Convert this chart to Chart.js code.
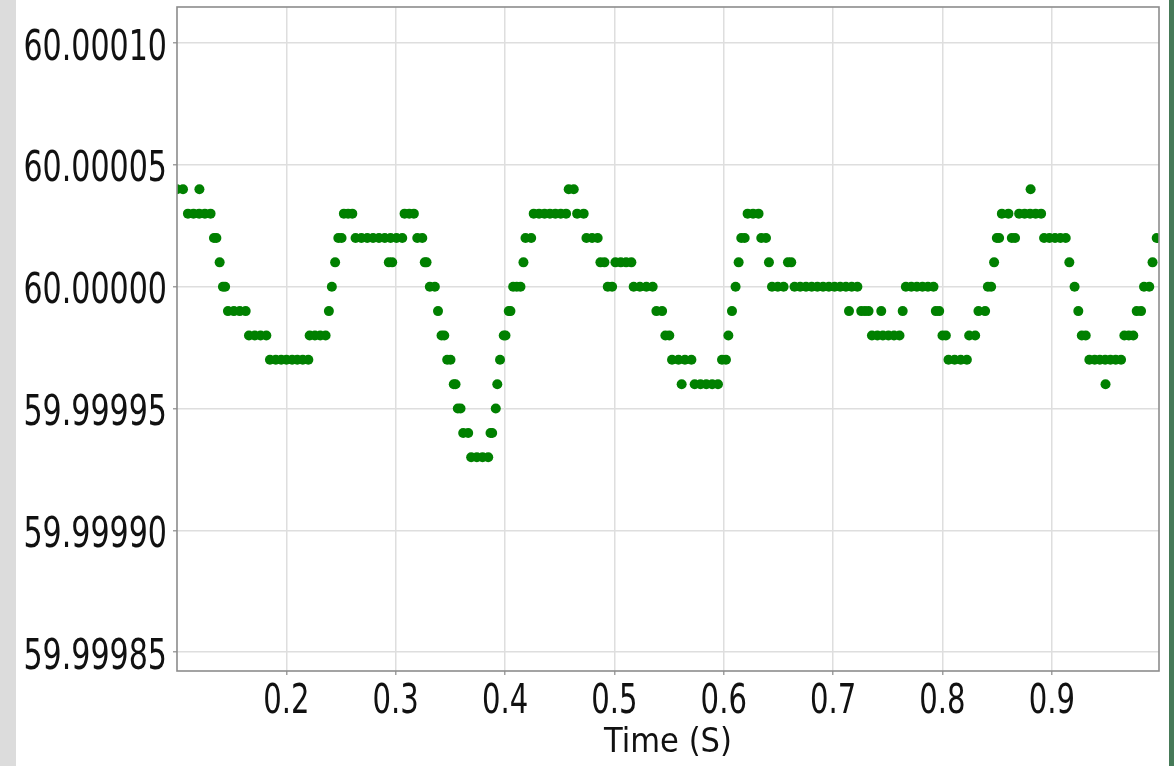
<!DOCTYPE html>
<html>
<head>
<meta charset="utf-8">
<title>Frequency vs time</title>
<script src="https://cdn.jsdelivr.net/npm/chart.js@4.4.1/dist/chart.umd.min.js"></script>
<style>
  html, body { margin: 0; padding: 0; background: #ffffff; }
  #wrap { position: relative; width: 1174px; height: 766px; }
  canvas { display: block; }
</style>
</head>
<body>
<div id="wrap"><canvas id="freqChart" width="1174" height="766"></canvas></div>
<script>
// Sample times (s) of the frequency measurements
const times = [
  0.1000, 0.1055, 0.1100, 0.1151, 0.1203, 0.1205, 0.1255, 0.1307, 0.1338, 0.1360,
  0.1390, 0.1420, 0.1440, 0.1466, 0.1520, 0.1574, 0.1628, 0.1658, 0.1711, 0.1764,
  0.1817, 0.1850, 0.1903, 0.1953, 0.2001, 0.2053, 0.2100, 0.2150, 0.2201, 0.2213,
  0.2261, 0.2310, 0.2359, 0.2389, 0.2416, 0.2446, 0.2475, 0.2505, 0.2526, 0.2565,
  0.2603, 0.2633, 0.2686, 0.2740, 0.2793, 0.2847, 0.2900, 0.2937, 0.2953, 0.2968,
  0.3007, 0.3060, 0.3081, 0.3124, 0.3166, 0.3197, 0.3243, 0.3266, 0.3282, 0.3312,
  0.3358, 0.3387, 0.3419, 0.3444, 0.3471, 0.3501, 0.3531, 0.3547, 0.3568, 0.3593,
  0.3617, 0.3663, 0.3690, 0.3742, 0.3794, 0.3846, 0.3867, 0.3882, 0.3915, 0.3929,
  0.3954, 0.3988, 0.4004, 0.4034, 0.4049, 0.4074, 0.4107, 0.4141, 0.4168, 0.4187,
  0.4239, 0.4262, 0.4311, 0.4361, 0.4410, 0.4460, 0.4509, 0.4558, 0.4582, 0.4628,
  0.4659, 0.4719, 0.4744, 0.4796, 0.4847, 0.4872, 0.4909, 0.4939, 0.4979, 0.5009,
  0.5058, 0.5107, 0.5155, 0.5176, 0.5233, 0.5292, 0.5350, 0.5384, 0.5436, 0.5466,
  0.5502, 0.5527, 0.5586, 0.5615, 0.5645, 0.5704, 0.5734, 0.5787, 0.5840, 0.5894,
  0.5947, 0.5984, 0.6020, 0.6042, 0.6075, 0.6108, 0.6136, 0.6160, 0.6191, 0.6218,
  0.6268, 0.6318, 0.6343, 0.6386, 0.6413, 0.6441, 0.6494, 0.6547, 0.6587, 0.6617,
  0.6647, 0.6699, 0.6752, 0.6804, 0.6856, 0.6908, 0.6961, 0.7013, 0.7065, 0.7117,
  0.7145, 0.7170, 0.7222, 0.7257, 0.7291, 0.7324, 0.7355, 0.7405, 0.7440, 0.7455,
  0.7506, 0.7557, 0.7607, 0.7636, 0.7665, 0.7715, 0.7766, 0.7817, 0.7867, 0.7918,
  0.7939, 0.7970, 0.8000, 0.8031, 0.8055, 0.8111, 0.8167, 0.8223, 0.8244, 0.8299,
  0.8329, 0.8390, 0.8415, 0.8445, 0.8472, 0.8497, 0.8518, 0.8543, 0.8603, 0.8634,
  0.8664, 0.8701, 0.8751, 0.8801, 0.8806, 0.8852, 0.8902, 0.8929, 0.8978, 0.9029,
  0.9078, 0.9127, 0.9160, 0.9208, 0.9242, 0.9274, 0.9310, 0.9343, 0.9392, 0.9439,
  0.9488, 0.9491, 0.9536, 0.9584, 0.9633, 0.9663, 0.9704, 0.9745, 0.9776, 0.9816,
  0.9843, 0.9891, 0.9921, 0.9959
];

// Measured frequency (Hz) at each sample time
const freqHz = [
  60.00004, 60.00004, 60.00003, 60.00003, 60.00003, 60.00004, 60.00003, 60.00003, 60.00002, 60.00002,
  60.00001, 60.00000, 60.00000, 59.99999, 59.99999, 59.99999, 59.99999, 59.99998, 59.99998, 59.99998,
  59.99998, 59.99997, 59.99997, 59.99997, 59.99997, 59.99997, 59.99997, 59.99997, 59.99997, 59.99998,
  59.99998, 59.99998, 59.99998, 59.99999, 60.00000, 60.00001, 60.00002, 60.00002, 60.00003, 60.00003,
  60.00003, 60.00002, 60.00002, 60.00002, 60.00002, 60.00002, 60.00002, 60.00001, 60.00002, 60.00001,
  60.00002, 60.00002, 60.00003, 60.00003, 60.00003, 60.00002, 60.00002, 60.00001, 60.00001, 60.00000,
  60.00000, 59.99999, 59.99998, 59.99998, 59.99997, 59.99997, 59.99996, 59.99996, 59.99995, 59.99995,
  59.99994, 59.99994, 59.99993, 59.99993, 59.99993, 59.99993, 59.99994, 59.99994, 59.99995, 59.99996,
  59.99997, 59.99998, 59.99998, 59.99999, 59.99999, 60.00000, 60.00000, 60.00000, 60.00001, 60.00002,
  60.00002, 60.00003, 60.00003, 60.00003, 60.00003, 60.00003, 60.00003, 60.00003, 60.00004, 60.00004,
  60.00003, 60.00003, 60.00002, 60.00002, 60.00002, 60.00001, 60.00001, 60.00000, 60.00000, 60.00001,
  60.00001, 60.00001, 60.00001, 60.00000, 60.00000, 60.00000, 60.00000, 59.99999, 59.99999, 59.99998,
  59.99998, 59.99997, 59.99997, 59.99996, 59.99997, 59.99997, 59.99996, 59.99996, 59.99996, 59.99996,
  59.99996, 59.99997, 59.99997, 59.99998, 59.99999, 60.00000, 60.00001, 60.00002, 60.00002, 60.00003,
  60.00003, 60.00003, 60.00002, 60.00002, 60.00001, 60.00000, 60.00000, 60.00000, 60.00001, 60.00001,
  60.00000, 60.00000, 60.00000, 60.00000, 60.00000, 60.00000, 60.00000, 60.00000, 60.00000, 60.00000,
  59.99999, 60.00000, 60.00000, 59.99999, 59.99999, 59.99999, 59.99998, 59.99998, 59.99999, 59.99998,
  59.99998, 59.99998, 59.99998, 59.99999, 60.00000, 60.00000, 60.00000, 60.00000, 60.00000, 60.00000,
  59.99999, 59.99999, 59.99998, 59.99998, 59.99997, 59.99997, 59.99997, 59.99997, 59.99998, 59.99998,
  59.99999, 59.99999, 60.00000, 60.00000, 60.00001, 60.00002, 60.00002, 60.00003, 60.00003, 60.00002,
  60.00002, 60.00003, 60.00003, 60.00003, 60.00004, 60.00003, 60.00003, 60.00002, 60.00002, 60.00002,
  60.00002, 60.00002, 60.00001, 60.00000, 59.99999, 59.99998, 59.99998, 59.99997, 59.99997, 59.99997,
  59.99997, 59.99996, 59.99997, 59.99997, 59.99997, 59.99998, 59.99998, 59.99998, 59.99999, 59.99999,
  60.00000, 60.00000, 60.00001, 60.00002
];

// Axis ticks and ranges
const xTicks = [0.2, 0.3, 0.4, 0.5, 0.6, 0.7, 0.8, 0.9];
const yTicks = [59.99985, 59.99990, 59.99995, 60.00000, 60.00005, 60.00010];
const xRange = [0.1, 0.998];
const yRange = [59.9998423, 60.0001148];
const xTitle = 'Time (S)';

const points = times.map((t, i) => ({ x: t, y: freqHz[i] }));

// Text drawn with a horizontal squeeze (narrow tick and title lettering)
function narrowText(ctx, text, x, y, sx, align, font) {
  ctx.save();
  ctx.font = font;
  ctx.fillStyle = '#111111';
  ctx.textBaseline = 'alphabetic';
  ctx.translate(x, y);
  ctx.scale(sx, 1);
  ctx.textAlign = align;
  ctx.fillText(text, 0, 0);
  ctx.restore();
}

const pagePlugin = {
  id: 'pageFrame',
  beforeDraw(chart) {
    const ctx = chart.ctx;
    ctx.save();
    ctx.fillStyle = '#ffffff';
    ctx.fillRect(0, 0, chart.width, chart.height);
    ctx.fillStyle = '#dcdcdc';
    ctx.fillRect(0, 0, 16, chart.height);
    ctx.fillStyle = '#467a58';
    ctx.fillRect(1169, 0, chart.width - 1169, chart.height);
    ctx.restore();
  },
  afterDraw(chart) {
    const ctx = chart.ctx;
    const a = chart.chartArea;
    // frame around the plotting area
    ctx.save();
    ctx.strokeStyle = '#8c8c8c';
    ctx.lineWidth = 1.6;
    ctx.strokeRect(a.left, a.top, a.right - a.left, a.bottom - a.top);
    ctx.restore();

    const ys = chart.scales.y;
    ys.ticks.forEach(t => {
      const py = ys.getPixelForValue(t.value);
      narrowText(ctx, t.value.toFixed(5), 167, py + 16.5, 0.70, 'right', '43px "DejaVu Sans"');
    });
    const xs = chart.scales.x;
    xs.ticks.forEach(t => {
      const px = xs.getPixelForValue(t.value);
      narrowText(ctx, t.value.toFixed(1), px, a.bottom + 42, 0.71, 'center', '41px "DejaVu Sans"');
    });
    narrowText(ctx, xTitle, (a.left + a.right) / 2, 752, 0.9, 'center', '34px "DejaVu Sans"');
  }
};

new Chart(document.getElementById('freqChart'), {
  type: 'scatter',
  data: {
    datasets: [{
      data: points,
      backgroundColor: '#008000',
      borderColor: '#008000',
      borderWidth: 0,
      pointRadius: 5,
      pointHoverRadius: 5,
      clip: 0
    }]
  },
  options: {
    responsive: false,
    animation: false,
    devicePixelRatio: 1,
    events: [],
    layout: { padding: { left: 17, right: 15, top: 7, bottom: 0 } },
    plugins: { legend: { display: false }, tooltip: { enabled: false } },
    scales: {
      x: {
        type: 'linear',
        min: xRange[0],
        max: xRange[1],
        afterBuildTicks: s => { s.ticks = xTicks.map(v => ({ value: v })); },
        afterFit: s => { s.height = 95; },
        ticks: { display: false },
        border: { display: false },
        grid: { color: '#dedede', lineWidth: 1.5, drawTicks: true, tickLength: 4, tickColor: '#a0a0a0' }
      },
      y: {
        type: 'linear',
        min: yRange[0],
        max: yRange[1],
        afterBuildTicks: s => { s.ticks = yTicks.map(v => ({ value: v })); },
        afterFit: s => { s.width = 160; },
        ticks: { display: false },
        border: { display: false },
        grid: { color: '#dedede', lineWidth: 1.5, drawTicks: true, tickLength: 4, tickColor: '#a0a0a0' }
      }
    }
  },
  plugins: [pagePlugin]
});
</script>
</body>
</html>
